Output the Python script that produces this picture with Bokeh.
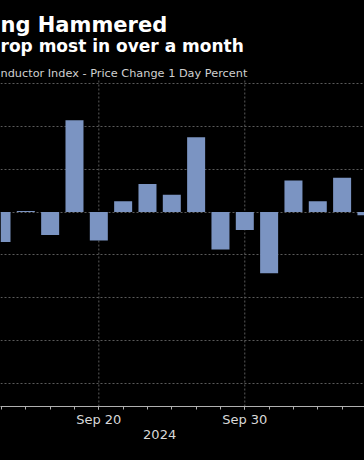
from bokeh.plotting import figure
from bokeh.models import Range1d, FixedTicker, LinearAxis
from bokeh.core.properties import value
from bokeh.embed import file_html
from bokeh.resources import INLINE

# ---- data (trading days, SOX 1-day % change) ----
dates = ["Sep 16", "Sep 17", "Sep 18", "Sep 19", "Sep 20", "Sep 23", "Sep 24",
         "Sep 25", "Sep 26", "Sep 27", "Sep 30", "Oct 1", "Oct 2", "Oct 3",
         "Oct 4", "Oct 7"]
changes = [-1.39, 0.05, -1.07, 4.28, -1.32, 0.51, 1.31, 0.81, 3.49, -1.74,
           -0.84, -2.85, 1.48, 0.51, 1.60, -0.15]
major_tick_dates = ["Sep 20", "Sep 30"]
year_label = "2024"
y_gridlines = [-8, -6, -4, -2, 0, 2, 4, 6]

title_text = "ng Hammered"
subtitle_text = "rop most in over a month"
series_text = "nductor Index - Price Change 1 Day Percent"

FONT = "DejaVu Sans"
idx = list(range(len(dates)))
major_ticks = [dates.index(d) for d in major_tick_dates]

W, H = 364, 460
PLOT_TOP, BOTTOM = 80, 406          # canvas pixels: chart area top / axis line
X0, X1 = -0.041, 14.92
Y0, Y_PLOT_TOP = -9.07, 6.14
ppu_y = (BOTTOM - PLOT_TOP) / (Y_PLOT_TOP - Y0)
Y1 = Y_PLOT_TOP + PLOT_TOP / ppu_y   # frame reaches the top of the canvas


def y_at(px):
    return Y1 - px / ppu_y


p = figure(width=W, height=H, output_backend="svg", toolbar_location=None,
           x_range=Range1d(X0, X1), y_range=Range1d(Y0, Y1),
           min_border_left=0, min_border_right=0,
           min_border_top=0, min_border_bottom=H - BOTTOM,
           background_fill_color="black", border_fill_color="black",
           outline_line_color=None)

GRID = "#5a5a5a"
# vertical grid at labelled dates (only in the chart area)
p.segment(x0=major_ticks, x1=major_ticks, y0=[Y0] * len(major_ticks),
          y1=[Y_PLOT_TOP] * len(major_ticks), line_color=GRID,
          line_dash="2 2", line_width=1)

p.vbar(x=idx, top=changes, bottom=0, width=0.74,
       fill_color="#7b94c2", line_color=None)

# y: hidden axis, dotted grid
p.yaxis.visible = False
p.ygrid.ticker = FixedTicker(ticks=y_gridlines)
p.ygrid.grid_line_color = GRID
p.ygrid.grid_line_dash = "2 2"
p.ygrid.grid_line_width = 1
p.xgrid.visible = False

# x axis
xa = p.xaxis[0]
xa.ticker = FixedTicker(ticks=major_ticks, minor_ticks=idx)
xa.major_label_overrides = {t: d for t, d in zip(major_ticks, major_tick_dates)}
xa.axis_line_color = "#b0b0b0"
xa.major_tick_line_color = "#b0b0b0"
xa.minor_tick_line_color = "#b0b0b0"
xa.major_tick_in = 0
xa.major_tick_out = 3
xa.minor_tick_in = 0
xa.minor_tick_out = 3
xa.major_label_standoff = 2
xa.major_label_text_color = "#d8d8d8"
xa.major_label_text_font = FONT
xa.major_label_text_font_size = "13px"

year_pos = 6.5
ya = LinearAxis(ticker=FixedTicker(ticks=[year_pos], minor_ticks=[]),
                major_label_overrides={year_pos: year_label},
                axis_line_color=None, major_tick_line_color=None,
                minor_tick_line_color=None, major_tick_out=0, major_tick_in=0,
                major_label_standoff=0, major_label_text_color="#d8d8d8",
                major_label_text_font=FONT, major_label_text_font_size="13px")
p.add_layout(ya, "below")

# titles
for txt, base, size, style, color in [
    (title_text, 24, "21px", "bold", "white"),
    (subtitle_text, 45, "17px", "bold", "white"),
    (series_text, 73, "11.3px", "normal", "#d0d0d0"),
]:
    p.text(x=[X0], y=[y_at(base)], text=[txt], text_font=value(FONT),
           text_font_size=size, text_font_style=style, text_color=color,
           text_align="left", text_baseline="alphabetic")

html = file_html(p, INLINE)
html = html.replace("</head>",
                    "<style>html,body{margin:0;padding:0;background:#000;overflow:hidden}</style></head>", 1)
open("out.html", "w").write(html)
